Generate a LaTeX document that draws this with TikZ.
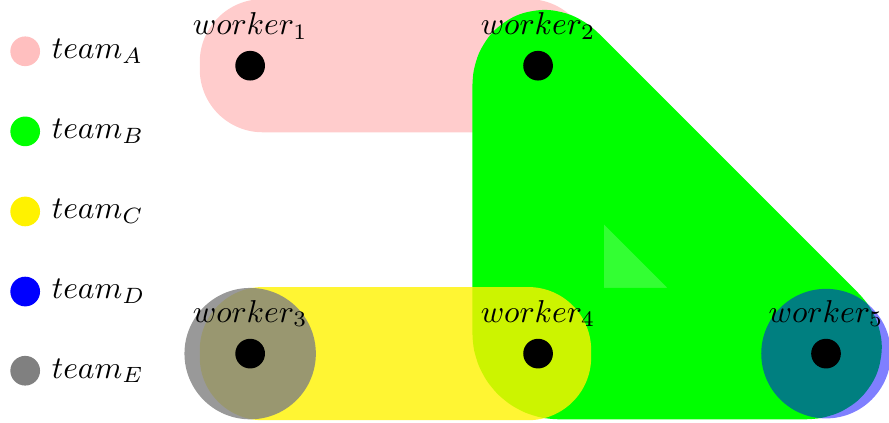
\documentclass[tikz,border=0pt]{standalone}
\usetikzlibrary{positioning,calc}

\tikzset{
  worker/.style={circle, fill=black, inner sep=0pt, minimum size=0.33cm},
  legdot/.style={circle, inner sep=0pt, minimum size=0.33cm},
}

\begin{document}
\begin{tikzpicture}[x=1cm,y=1cm]
\useasboundingbox (-2.78,-0.77) rectangle (7.10,3.93);

% workers (drawn first as coordinates, dots come on top later)
\coordinate (w1) at (0,3.2);
\coordinate (w2) at (3.2,3.2);
\coordinate (w3) at (0,0);
\coordinate (w4) at (3.2,0);
\coordinate (w5) at (6.4,0);

% team A
\fill[red!20, rounded corners=0.7cm] ($(w1)+(-0.56,-0.74)$) rectangle ($(w2)+(0.59,0.74)$);
% team B
\draw[green, line width=1.46cm, line join=round, rounded corners=2.3mm, fill=green, fill opacity=0.8]
  (w4) -- (w5) -- (w2) -- cycle;
% team C
\fill[yellow, opacity=0.8, rounded corners=0.7cm] ($(w3)+(-0.56,-0.74)$) rectangle ($(w4)+(0.59,0.74)$);
% team E
\fill[gray, opacity=0.8] (w3) circle (0.73);
% team D
\fill[blue, opacity=0.5] (w5) circle (0.72);

\node[worker, label=above:$worker_1$] (worker1) at (w1) {};
\node[worker, label=above:$worker_2$] (worker2) at (w2) {};
\node[worker, label=above:$worker_3$] (worker3) at (w3) {};
\node[worker, label=above:$worker_4$] (worker4) at (w4) {};
\node[worker, label=above:$worker_5$] (worker5) at (w5) {};

% legend
\node[legdot, fill=red!25] (legA) at (-2.5,3.36) {};
\node[legdot, fill=green] (legB) at (-2.5,2.47) {};
\node[legdot, fill=yellow] (legC) at (-2.5,1.58) {};
\node[legdot, fill=blue] (legD) at (-2.5,0.69) {};
\node[legdot, fill=gray] (legE) at (-2.5,-0.19) {};
\node[right=0pt of legA] (teamA) {$team_A$};
\node[right=0pt of legB] (teamB) {$team_B$};
\node[right=0pt of legC] (teamC) {$team_C$};
\node[right=0pt of legD] (teamD) {$team_D$};
\node[right=0pt of legE] (teamE) {$team_E$};
\end{tikzpicture}
\end{document}
